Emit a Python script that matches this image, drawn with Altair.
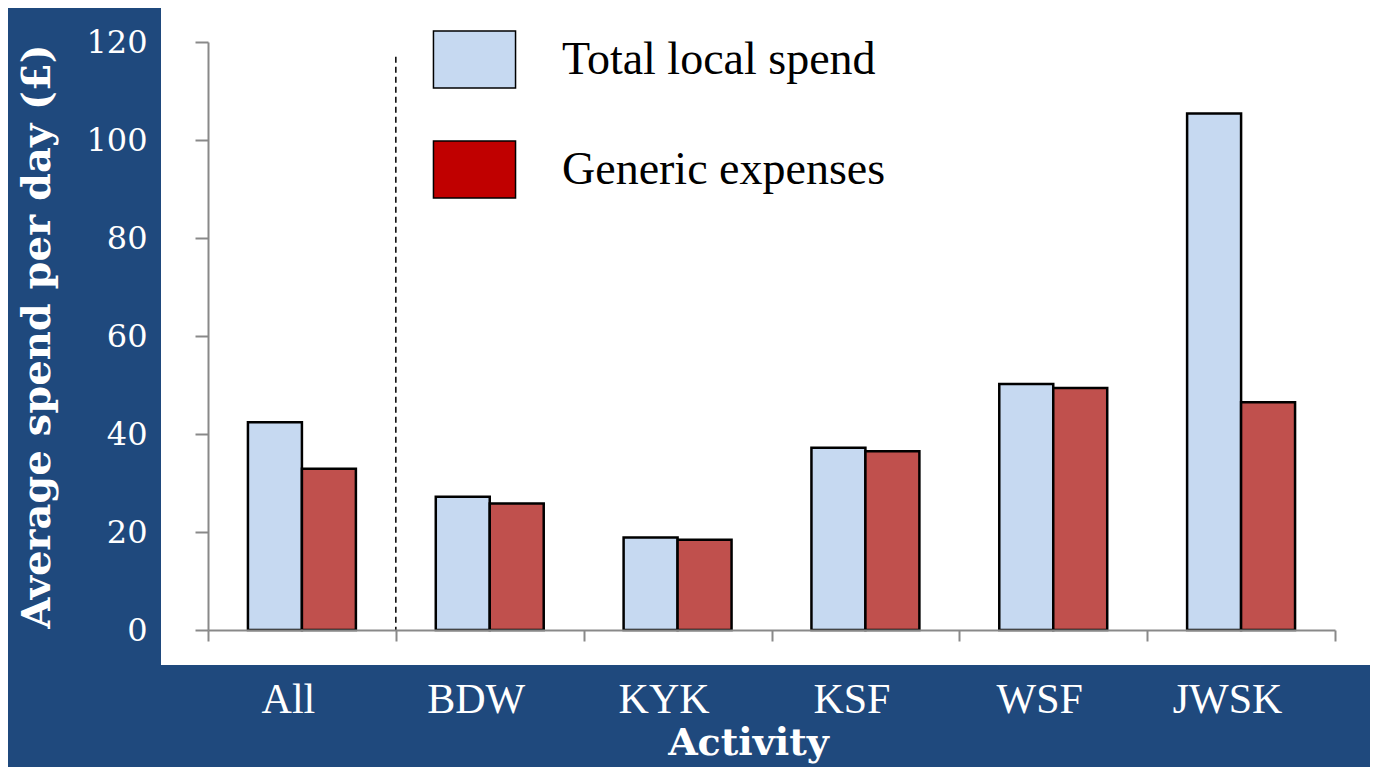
import altair as alt
import pandas as pd

categories = ["All", "BDW", "KYK", "KSF", "WSF", "JWSK"]
series = ["Total local spend", "Generic expenses"]
series_keys = ["total", "generic"]
total_local = [42.4, 27.2, 18.9, 37.2, 50.2, 105.4]
generic_exp = [32.9, 25.8, 18.4, 36.5, 49.4, 46.5]
y_ticks = [0, 20, 40, 60, 80, 100, 120]
divider_cat = ["BDW"]
divider_top = [117]

BLUE_BG = "#1F497D"
GREY = "#898989"

rows = []
for c, t, g in zip(categories, total_local, generic_exp):
    rows.append({"cat": c, "series": series[0], "value": t})
    rows.append({"cat": c, "series": series[1], "value": g})
df = pd.DataFrame(rows)
df_leg = pd.DataFrame({"cat": [categories[0]] * 2, "key": series_keys, "value": [0, 0]})
df_rule = pd.DataFrame({"cat": divider_cat, "top": divider_top, "bottom": [0]})
df_bg = pd.DataFrame({"k": [0]})

label_expr = "datum.value == '%s' ? '%s' : '%s'" % (series_keys[0], series[0], series[1])

W, H = 1127, 588

x_scale = alt.Scale(domain=categories, paddingInner=0, paddingOuter=0)
x_axis = alt.Axis(
    title="Activity",
    labelAngle=0,
    tickBand="extent",
    domainColor=GREY, domainWidth=2,
    tickColor=GREY, tickWidth=2, tickSize=11,
    labelColor="white", labelFont="Liberation Serif", labelFontSize=42,
    labelPadding=38, labelOffset=-14,
    titleColor="white", titleFont="DejaVu Serif", titleFontWeight="bold",
    titleFontSize=38, titlePadding=34, titleX=540, titleAlign="center",
    titleBaseline="alphabetic",
    zindex=1,
)
y_scale = alt.Scale(domain=[0, 120], nice=False)
y_axis = alt.Axis(
    title="Average spend per day (£)",
    values=y_ticks, grid=False,
    domainColor=GREY, domainWidth=2,
    tickColor=GREY, tickWidth=2, tickSize=13,
    labelColor="white", labelFont="DejaVu Serif", labelFontSize=32,
    labelPadding=48,
    titleColor="white", titleFont="DejaVu Serif", titleFontWeight="bold",
    titleFontSize=40, titlePadding=28,
    zindex=1,
)

bg = alt.Chart(df_bg).mark_rect(color="white").encode(
    x=alt.value(-47), x2=alt.value(W + 45),
    y=alt.value(-36), y2=alt.value(H + 35),
)

bars = alt.Chart(df).mark_bar(stroke="black", strokeWidth=2.5).encode(
    x=alt.X("cat:N", sort=categories, scale=x_scale, axis=x_axis),
    xOffset=alt.XOffset("series:N", sort=series,
                        scale=alt.Scale(domain=series, paddingInner=0, paddingOuter=0.74)),
    y=alt.Y("value:Q", scale=y_scale, axis=y_axis),
    color=alt.Color("series:N", scale=alt.Scale(domain=series, range=["#C6D9F1", "#C0504D"]),
                    legend=None),
)

rule = alt.Chart(df_rule).mark_rule(color="black", strokeWidth=1.5, strokeDash=[6, 4]).encode(
    x=alt.X("cat:N", sort=categories, scale=x_scale, axis=x_axis, bandPosition=0),
    y=alt.Y("top:Q", scale=y_scale, axis=y_axis),
    y2="bottom:Q",
)

legend_layer = alt.Chart(df_leg).mark_point(filled=True, size=1, strokeWidth=0).encode(
    x=alt.X("cat:N", sort=categories, scale=x_scale, axis=x_axis),
    y=alt.Y("value:Q", scale=y_scale, axis=y_axis),
    fill=alt.Fill(
        "key:N",
        scale=alt.Scale(domain=series_keys, range=["#C6D9F1", "#C00000"]),
        legend=alt.Legend(
            title=None, orient="none", legendX=237, legendY=-12,
            labelExpr=label_expr,
            symbolType="M-1.44,-1H1.44V1H-1.44Z", symbolSize=3249,
            symbolStrokeColor="black", symbolStrokeWidth=1.5, symbolOpacity=1,
            labelFont="Liberation Serif", labelFontSize=46, labelColor="black",
            labelOffset=58, rowPadding=47, labelLimit=600, zindex=2,
        ),
    ),
)

chart = alt.layer(bg, rule, bars, legend_layer).properties(
    width=W, height=H,
    autosize=alt.AutoSizeParams(type="none"),
    padding={"left": 200, "top": 34, "right": 35, "bottom": 137},
    background=BLUE_BG,
).configure_view(stroke=None)

chart.save("out.html", embed_options={"renderer": "svg", "actions": False})
